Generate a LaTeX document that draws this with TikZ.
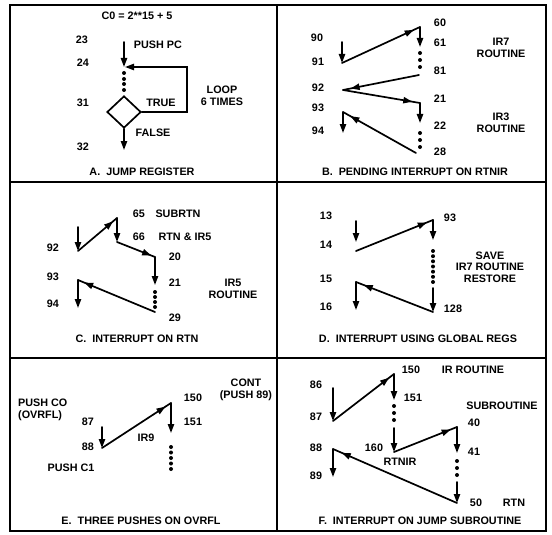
\documentclass[tikz,border=0pt]{standalone}
\usepackage{fontspec}
\setmainfont{Liberation Sans}
\usetikzlibrary{arrows.meta,shapes.geometric,decorations.markings}
\begin{document}
\begin{tikzpicture}[x=1pt,y=-1pt,
  lab/.style={font=\bfseries\fontsize{10.8}{11.5}\selectfont, inner sep=0pt, align=center},
  flow/.style={line width=1.7pt, line cap=round},
  arr/.style={flow, -{Triangle[length=9pt,width=6.2pt]}},
  midarr/.style={flow, postaction={decorate}, decoration={markings, mark=at position #1 with {\arrow{Triangle[length=9pt,width=6.2pt]}}}},
  midarr/.default=0.9,
  dotn/.style={circle, fill, inner sep=0pt, minimum size=4pt},
  frame/.style={line width=2.4pt}
]
\useasboundingbox (0,0) rectangle (552,535);
% frame and dividers
\draw[frame] (10,5) rectangle (546,531);
\draw[frame] (277,5) -- (277,531);
\draw[frame] (10,182) -- (546,182);
\draw[frame] (10,358) -- (546,358);

% ---------- Panel A ----------
\node[lab] (aeq) at (137,16) {C0 = 2**15 + 5};
\node[lab] (a23l) at (82,40) {23};
\node[lab] (apush) at (158,45) {PUSH PC};
\node[lab] (a24l) at (83,63) {24};
\node[lab] (a31l) at (83,103) {31};
\node[lab] (atrue) at (161,103) {TRUE};
\node[lab] (aloop) at (222,96) {LOOP\\6 TIMES};
\node[lab] (afalse) at (153,133) {FALSE};
\node[lab] (a32l) at (83,147) {32};
\node[lab] (atitle) at (142,172) {A.\ \ JUMP REGISTER};
\coordinate (a23) at (124,42);
\coordinate (a24) at (124,67);
\coordinate (aR) at (187,67);
\coordinate (a32) at (124,150);
\draw[arr] (a23) -- (a24);
\foreach \y [count=\i] in {73,79,84,90} \node[dotn] (ad\i) at (124,\y) {};
\node[diamond, draw, line width=1.7pt, minimum width=34pt, minimum height=32pt, inner sep=0pt] (dia) at (124,112) {};
\draw[arr, shorten >=1pt] (dia.east) -- (dia.east -| aR) -- (aR) -- (a24);
\draw[arr] (dia.south) -- (a32);

% ---------- Panel B ----------
\node[lab] (b90l) at (317,38) {90};
\node[lab] (b91l) at (318,62) {91};
\node[lab] (b92l) at (318,88) {92};
\node[lab] (b93l) at (318,108) {93};
\node[lab] (b94l) at (318,131) {94};
\node[lab] (b60l) at (440,23) {60};
\node[lab] (b61l) at (440,43) {61};
\node[lab] (b81l) at (440,71) {81};
\node[lab] (b21l) at (440,99) {21};
\node[lab] (b22l) at (440,126) {22};
\node[lab] (b28l) at (440,152) {28};
\node[lab] (bir7) at (501,48) {IR7\\ROUTINE};
\node[lab] (bir3) at (501,123) {IR3\\ROUTINE};
\node[lab] (btitle) at (415,172) {B.\ \ PENDING INTERRUPT ON RTNIR};
\coordinate (b90) at (342,42);
\coordinate (b91) at (342,63);
\coordinate (b60) at (420,27);
\coordinate (b61) at (420,47);
\coordinate (b81) at (419,75);
\coordinate (b92) at (343,90);
\coordinate (b21) at (420,103);
\coordinate (b22) at (420,123);
\coordinate (b28) at (416,153);
\coordinate (b93) at (343,112);
\coordinate (b94) at (343,133);
\draw[arr] (b90) -- (b91);
\draw[midarr=0.92] (b91) -- (b60);
\draw[arr] (b60) -- (b61);
\foreach \y [count=\i] in {53,60,67} \node[dotn] (bd\i) at (420,\y) {};
\draw[midarr=0.9] (b81) -- (b92);
\draw[midarr=0.9] (b92) -- (b21);
\draw[arr] (b21) -- (b22);
\foreach \y [count=\i] in {133,140,147} \node[dotn] (be\i) at (420,\y) {};
\draw[midarr=0.9] (b28) -- (b93);
\draw[arr] (b93) -- (b94);

% ---------- Panel C ----------
\node[lab] (c65l) at (139,214) {65};
\node[lab] (csub) at (178,214) {SUBRTN};
\node[lab] (c66l) at (139,237) {66};
\node[lab] (crtn) at (185,237) {RTN \& IR5};
\node[lab] (c92l) at (53,248) {92};
\node[lab] (c20l) at (175,257) {20};
\node[lab] (c93l) at (53,277) {93};
\node[lab] (c21l) at (175,283) {21};
\node[lab] (cir5) at (233,289) {IR5\\ROUTINE};
\node[lab] (c94l) at (53,304) {94};
\node[lab] (c29l) at (175,318) {29};
\node[lab] (ctitle) at (137,339) {C.\ \ INTERRUPT ON RTN};
\coordinate (c1) at (78,227);
\coordinate (c2) at (78,251);
\coordinate (c3) at (117,218);
\coordinate (c4) at (117,242);
\coordinate (c5) at (155,257);
\coordinate (c6) at (155,285);
\coordinate (c7) at (155,312);
\coordinate (c8) at (78,280);
\coordinate (c9) at (78,308);
\draw[arr] (c1) -- (c2);
\draw[midarr=0.9] (c2) -- (c3);
\draw[arr] (c3) -- (c4);
\draw[midarr=0.9] (c4) -- (c5);
\draw[arr] (c5) -- (c6);
\foreach \y [count=\i] in {292,297,302,307} \node[dotn] (cd\i) at (155,\y) {};
\draw[midarr=0.92] (c7) -- (c8);
\draw[arr] (c8) -- (c9);

% ---------- Panel D ----------
\node[lab] (d13l) at (326,216) {13};
\node[lab] (d14l) at (326,245) {14};
\node[lab] (d15l) at (326,279) {15};
\node[lab] (d16l) at (326,307) {16};
\node[lab] (d93l) at (450,218) {93};
\node[lab] (d128l) at (453,309) {128};
\node[lab] (dsave) at (490,267) {SAVE\\IR7 ROUTINE\\RESTORE};
\node[lab] (dtitle) at (418,339) {D.\ \ INTERRUPT USING GLOBAL REGS};
\coordinate (d13) at (356,221);
\coordinate (d14) at (356,242);
\coordinate (d2) at (356,251);
\coordinate (d93) at (433,220);
\coordinate (d3) at (433,240);
\coordinate (d4) at (433,288);
\coordinate (d128) at (433,312);
\coordinate (d15) at (356,282);
\coordinate (d16) at (356,310);
\draw[arr] (d13) -- (d14);
\draw[midarr=0.92] (d2) -- (d93);
\draw[arr] (d93) -- (d3);
\foreach \y [count=\i] in {251,256.2,261.3,266.5,271.7,276.8,282} \node[dotn] (dd\i) at (433,\y) {};
\draw[arr] (d4) -- (d128);
\draw[midarr=0.9] (d128) -- (d15);
\draw[arr] (d15) -- (d16);

% ---------- Panel E ----------
\node[lab] (econt) at (246,390) {CONT\\(PUSH 89)};
\node[lab] (e150l) at (193,398) {150};
\node[lab, align=left, anchor=west] (epush0) at (18,410) {PUSH CO\\(OVRFL)};
\node[lab] (e87l) at (88,422) {87};
\node[lab] (e151l) at (193,422) {151};
\node[lab] (eir9) at (146,438) {IR9};
\node[lab] (e88l) at (88,447) {88};
\node[lab] (epush1) at (71,468) {PUSH C1};
\node[lab] (etitle) at (141,521) {E.\ \ THREE PUSHES ON OVRFL};
\coordinate (e87) at (102,427);
\coordinate (e88) at (102,448);
\coordinate (e150) at (171,403);
\coordinate (e151) at (171,433);
\draw[arr] (e87) -- (e88);
\draw[midarr=0.92] (e88) -- (e150);
\draw[arr] (e150) -- (e151);
\foreach \y [count=\i] in {447,452.5,458,463.5,469} \node[dotn] (ed\i) at (171,\y) {};

% ---------- Panel F ----------
\node[lab] (f150l) at (411,370) {150};
\node[lab] (firr) at (473,370) {IR ROUTINE};
\node[lab] (f86l) at (316,385) {86};
\node[lab] (f151l) at (413,398) {151};
\node[lab] (fsub) at (502,406) {SUBROUTINE};
\node[lab] (f87l) at (316,417) {87};
\node[lab] (f40l) at (474,423) {40};
\node[lab] (f88l) at (316,448) {88};
\node[lab] (f160l) at (374,448) {160};
\node[lab] (f41l) at (474,452) {41};
\node[lab] (frtnir) at (400,462) {RTNIR};
\node[lab] (f89l) at (316,476) {89};
\node[lab] (f50l) at (476,503) {50};
\node[lab] (frtn) at (514,503) {RTN};
\node[lab] (ftitle) at (420,521) {F.\ \ INTERRUPT ON JUMP SUBROUTINE};
\coordinate (f86) at (333,388);
\coordinate (f87) at (333,421);
\coordinate (f150) at (394,374);
\coordinate (f151) at (394,400);
\coordinate (f5) at (394,428);
\coordinate (f160) at (394,452);
\coordinate (f40) at (457,427);
\coordinate (f41) at (457,453);
\coordinate (f6) at (457,482);
\coordinate (f50) at (457,503);
\coordinate (f88) at (333,449);
\coordinate (f89) at (333,477);
\draw[arr] (f86) -- (f87);
\draw[midarr=0.92] (f87) -- (f150);
\draw[arr] (f150) -- (f151);
\foreach \y [count=\i] in {406,413,420} \node[dotn] (fd\i) at (394,\y) {};
\draw[arr] (f5) -- (f160);
\draw[midarr=0.9] (f160) -- (f40);
\draw[arr] (f40) -- (f41);
\foreach \y [count=\i] in {461,468,475} \node[dotn] (fe\i) at (457,\y) {};
\draw[arr] (f6) -- (f50);
\draw[midarr=0.93] (f50) -- (f88);
\draw[arr] (f88) -- (f89);
\end{tikzpicture}
\end{document}
